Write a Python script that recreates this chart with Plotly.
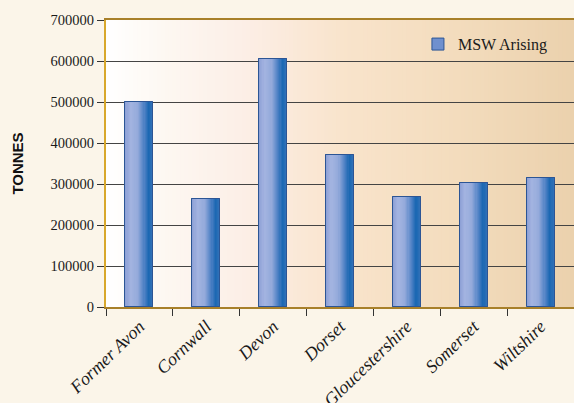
import plotly.graph_objects as go

# Municipal solid waste arising by county (tonnes)
counties = ["Former Avon", "Cornwall", "Devon", "Dorset", "Gloucestershire", "Somerset", "Wiltshire"]
msw_arising = [500000, 263000, 605000, 370000, 268000, 302000, 315000]
y_ticks = [0, 100000, 200000, 300000, 400000, 500000, 600000, 700000]

SERIF = "Liberation Serif"
BAR_W = 0.42

# horizontal colour ramp used to shade each bar (left -> right)
bar_ramp = [
    (0.00, (0x8C, 0x9F, 0xD5)),
    (0.20, (0xA4, 0xB4, 0xE1)),
    (0.45, (0x94, 0xAA, 0xDB)),
    (0.70, (0x4C, 0x80, 0xC4)),
    (0.86, (0x1A, 0x67, 0xB2)),
    (1.00, (0x33, 0x71, 0xB8)),
]
# plot-area background ramp (left -> right)
bg_ramp = [
    (0.00, (0xFF, 0xFF, 0xFF)),
    (0.12, (0xFD, 0xF8, 0xF2)),
    (0.30, (0xFC, 0xEE, 0xE6)),
    (0.50, (0xF9, 0xE4, 0xCC)),
    (0.75, (0xF3, 0xDC, 0xBD)),
    (1.00, (0xEB, 0xD1, 0xAD)),
]


def ramp_color(ramp, t):
    for (t0, c0), (t1, c1) in zip(ramp, ramp[1:]):
        if t <= t1:
            f = (t - t0) / (t1 - t0) if t1 > t0 else 0
            c = [round(a + (b - a) * f) for a, b in zip(c0, c1)]
            return f"rgb({c[0]},{c[1]},{c[2]})"
    c = ramp[-1][1]
    return f"rgb({c[0]},{c[1]},{c[2]})"


fig = go.Figure()

# base bars (legend entry)
fig.add_trace(go.Bar(
    x=counties, y=msw_arising, name="MSW Arising",
    width=BAR_W, marker=dict(color="#6F90CE", line=dict(color="#2C5595", width=1)),
    showlegend=True,
))

# shaded stripes across each bar
n_strips = 24
inner = BAR_W * 0.97
for i in range(n_strips):
    t = (i + 0.5) / n_strips
    fig.add_trace(go.Bar(
        x=counties, y=msw_arising,
        width=inner / n_strips * 1.15,
        offset=-inner / 2 + i * inner / n_strips,
        marker=dict(color=ramp_color(bar_ramp, t), line=dict(width=0)),
        showlegend=False, hoverinfo="skip",
    ))

# outline on top
fig.add_trace(go.Bar(
    x=counties, y=msw_arising, width=BAR_W,
    marker=dict(color="rgba(0,0,0,0)", line=dict(color="#2C5595", width=1)),
    showlegend=False, hoverinfo="skip",
))

# gradient plot background
n_bg = 120
shapes = []
for i in range(n_bg):
    t = (i + 0.5) / n_bg
    shapes.append(dict(
        type="rect", xref="x domain", yref="y domain",
        x0=i / n_bg, x1=(i + 1) / n_bg + 0.002, y0=0, y1=1,
        fillcolor=ramp_color(bg_ramp, t), line=dict(width=0), layer="below",
    ))

fig.update_layout(
    width=574, height=403,
    margin=dict(l=106, r=0, t=20, b=96),
    paper_bgcolor="#FBF5E9", plot_bgcolor="rgba(0,0,0,0)",
    barmode="overlay", bargap=0,
    shapes=shapes,
    showlegend=True,
    legend=dict(
        x=0.955, xanchor="right", y=0.975, yanchor="top",
        bgcolor="rgba(0,0,0,0)", font=dict(family=SERIF, size=16, color="#1a1a1a"),
    ),
    xaxis=dict(
        type="category", range=[-0.5, 6.5], automargin=False,
        tickson="boundaries", ticks="outside", ticklen=7, tickcolor="#333",
        tickangle=-44,
        tickfont=dict(family=SERIF, size=18, color="#1a1a1a", style="italic"),
        showline=True, linecolor="#A8802A", linewidth=2, mirror=True,
        showgrid=False,
    ),
    yaxis=dict(
        range=[0, 700000], tickvals=y_ticks, ticktext=[str(v) for v in y_ticks],
        ticks="outside", ticklen=7, tickcolor="#333", automargin=False,
        tickfont=dict(family=SERIF, size=14.5, color="#1a1a1a"),
        showgrid=True, gridcolor="#444", gridwidth=1,
        showline=True, linecolor="#D8A82C", linewidth=2,
        zeroline=False,
        title=dict(text="TONNES", font=dict(family="Liberation Sans", size=15, color="#111", weight="bold"),
                   standoff=23),
    ),
)

fig.write_html("out.html")
